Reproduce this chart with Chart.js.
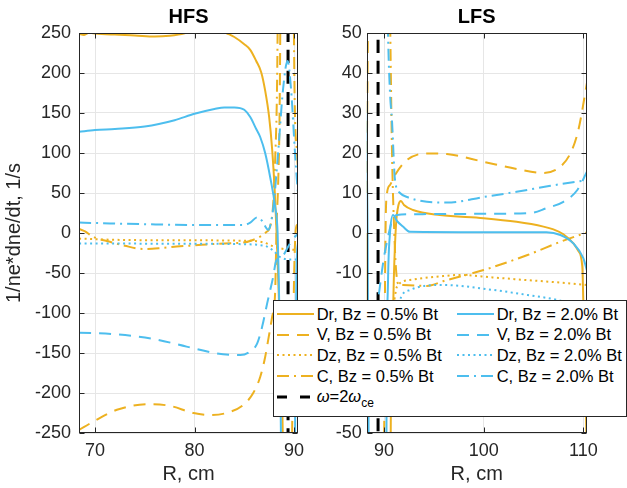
<!DOCTYPE html>
<html>
<head>
<meta charset="utf-8">
<script src="https://cdn.jsdelivr.net/npm/chart.js@4.4.1/dist/chart.umd.min.js"></script>
<style>
  html, body { margin: 0; padding: 0; background: #fff; }
  #fig { position: relative; width: 627px; height: 488px; overflow: hidden;
         font-family: "Liberation Sans", Arial, Helvetica, sans-serif; }
  #fig canvas { position: absolute; top: 0; }
  #legend { position: absolute; left: 273px; top: 300px; width: 352px; height: 115px;
            background: #fff; border: 1px solid #262626; z-index: 5; }
  .item { position: absolute; height: 20px; display: flex; align-items: center;
          font-size: 16.5px; color: #000; white-space: nowrap; }
  .item svg { margin-right: 3px; flex: none; }
  .item sub { font-size: 12px; vertical-align: -5px; line-height: 0; }
</style>
</head>
<body>
<div id="fig">
  <canvas id="hfs" width="313" height="488" style="left:0"></canvas>
  <canvas id="lfs" width="314" height="488" style="left:313px"></canvas>
  <div id="legend"></div>
</div>
<script>
// axis limits and ticks
const hfsXRange = [68.39, 90.4];
const lfsXRange = [88.26, 110.34];
const hfsYRange = [-250, 250];
const lfsYRange = [-50, 50];
const hfsXTicks = [70, 80, 90];
const lfsXTicks = [90, 100, 110];
const hfsYTicks = [-250, -200, -150, -100, -50, 0, 50, 100, 150, 200, 250];
const lfsYTicks = [-50, -40, -30, -20, -10, 0, 10, 20, 30, 40, 50];

// resonance position, omega = 2 omega_ce
const resonanceR = 89.4;

// [R, cm ; 1/ne*dne/dt, 1/s], null = break at the resonance
const dr05 = [[68.4,249],[68.9,247.5],[69.4,250.5],[70,249.5],[72,248],[74,247],[76,245.5],[77.5,246.5],
  [79,249.5],[80,254],[82,258],[83.2,250],[84,245],[85,236],[85.6,229],[86.2,215],[86.7,201],[87.1,178],
  [87.5,145],[87.8,105],[88.05,55],[88.25,0],[88.5,-90],[88.8,-200],[89.05,-400],[89.6,null],
  [90.55,-400],[90.65,-60],[90.8,-30],[91,-10],[91.2,2],[91.45,7],[91.7,8],[92,7],[92.9,5.75],[95.6,4.5],
  [100,3.7],[103.3,2.8],[106,1.6],[107,0.9],[108,-0.3],[109,-2.6],[109.5,-4.5],[109.9,-8.4],[110,-17],
  [110.2,-35],[110.34,-55]];
const v05 = [[68.4,-246],[69.8,-236],[72.2,-221],[75.5,-214],[77.5,-216],[79.9,-225],[81.6,-227.5],
  [83.2,-225],[84.9,-215],[85.9,-200],[86.6,-180],[87.1,-155],[87.4,-134],[87.8,-105],[88.1,-75],
  [88.25,10],[88.4,60],[88.55,150],[88.7,400],[89.2,null],
  [89.7,-400],[89.85,-200],[90,-60],[90.15,0],[90.3,10],[90.6,12],[91.1,14.5],[92.3,18.25],[94.3,19.9],
  [96.3,19.75],[100,17.8],[103.3,16],[106,15],[107.7,16.6],[108.7,19.9],[109.5,25.7],[110.4,38]];
const dz05 = [[68.4,-7],[72,-8.5],[76,-9],[80,-9],[84,-9.5],[86,-10],[87,-12],[88,-17],[89,-20],
  [90.4,-21],[91,-17],[91.3,-13.4],[92.6,-11.75],[96,-10.75],[97.6,-10.5],[100.9,-11.1],[104.2,-11.75],
  [107.7,-12.4],[110.4,-13]];
const c05 = [[68.4,5],[69,2],[69.8,-4.6],[71.5,-11],[73,-16],[74.9,-20],[76.5,-19],[78.2,-17],[80,-15.5],
  [81.6,-14],[83,-13],[84.9,-12],[85.8,-9],[86.6,-4.6],[87.2,1],[87.6,8],[87.9,35],[88.1,90],[88.3,190],
  [88.45,400],[89.2,null],
  [89.9,400],[90.05,180],[90.3,100],[90.6,55],[90.8,20],[91,2],[91.2,-9],[91.5,-13],[91.9,-13],
  [94.3,-13.25],[96,-12],[100,-9.25],[104.4,-5.5],[107.7,-2.2],[110.4,0.2]];

const dr20 = [[68.4,126.5],[70,128.7],[72,130],[75,133],[78,141],[80,149],[82,155],[83,157],[84,157],
  [85,154],[85.6,145],[86.2,130],[86.6,120],[87.1,100],[87.6,70],[88.1,33],[88.35,0],[88.45,-50],
  [88.6,-150],[88.8,-400],[89.4,null],
  [90.05,-400],[90.15,-150],[90.25,-45],[90.4,-12],[90.6,0],[90.9,4.5],[91.3,3],[91.9,1.6],[92.6,0.3],
  [100,0.2],[106.3,0.2],[107.7,-0.5],[109,-2.6],[110,-6.3],[110.4,-9.7]];
const v20 = [[68.4,-124.6],[72.2,-126.7],[75.9,-132.5],[79.2,-142],[82.2,-150.4],[84.6,-152.5],[85.6,-148],
  [86.3,-138],[86.8,-117],[87.3,-88],[87.9,-55],[88.2,-35],[88.9,-28],[89.5,-15],[90,-6],[90.4,-1],
  [90.8,3],[91.3,4.5],[92.9,4.7],[100,4.8],[104.7,5],[106.3,6.2],[108,7.8],[109.4,10.75],[110.4,15.5]];
const dz20 = [[68.4,-13],[72,-13],[76,-13.5],[80,-13.5],[84.9,-14],[86.5,-15],[87.3,-17],[88,-23],
  [88.6,-30],[89.5,-33],[90.4,-33],[91,-25],[91.6,-16.75],[92.6,-14.25],[96,-13],[101,-14.25],
  [104.4,-15.5],[107.4,-16.75],[110.4,-19]];
const c20 = [[68.4,13],[70,12.5],[75,11],[80,10],[84.9,10],[85.6,13],[86.3,19.6],[86.8,15],[87.4,4],
  [87.9,30],[88.4,100],[88.9,180],[89.35,215],[89.7,180],[90.1,100],[90.4,50],[90.6,35],[90.8,28],
  [91.1,13.25],[91.6,10],[92.3,9],[94.3,7.8],[96.3,7.6],[100,9],[103.3,10.3],[106.7,11.8],[110.4,13.25]];

const ORANGE = '#EDB120';
const BLUE = '#4DBEEE';
const SOLID = [], DASHED = [12, 8], DOTTED = [2, 3.5], DASHDOT = [12, 5, 2, 5];

// plotting order: later entries end up on top
const series = [
  { label: 'Dr, Bz = 0.5% Bt', data: dr05, color: ORANGE, dash: SOLID },
  { label: 'V, Bz = 0.5% Bt', data: v05, color: ORANGE, dash: DASHED },
  { label: 'Dz, Bz = 0.5% Bt', data: dz05, color: ORANGE, dash: DOTTED },
  { label: 'C, Bz = 0.5% Bt', data: c05, color: ORANGE, dash: DASHDOT },
  { label: 'resonance', data: null, color: '#000', dash: [13, 8], width: 3 },
  { label: 'Dr, Bz = 2.0% Bt', data: dr20, color: BLUE, dash: SOLID },
  { label: 'V, Bz = 2.0% Bt', data: v20, color: BLUE, dash: DASHED },
  { label: 'Dz, Bz = 2.0% Bt', data: dz20, color: BLUE, dash: DOTTED },
  { label: 'C, Bz = 2.0% Bt', data: c20, color: BLUE, dash: DASHDOT }
];

Chart.defaults.font.family = '"Liberation Sans", Arial, Helvetica, sans-serif';
Chart.defaults.color = '#262626';

// box, inward tick marks and panel title
const frame = {
  id: 'frame',
  afterDraw(chart, args, opts) {
    const { ctx, chartArea: a, scales } = chart;
    const L = Math.round(a.left) + 0.5, R = Math.round(a.right) - 0.5;
    const T = Math.round(a.top) + 0.5, B = Math.round(a.bottom) - 0.5;
    ctx.save();
    ctx.strokeStyle = '#262626';
    ctx.lineWidth = 1;
    ctx.beginPath();
    scales.x.ticks.forEach(t => {
      const px = Math.round(scales.x.getPixelForValue(t.value)) + 0.5;
      ctx.moveTo(px, B); ctx.lineTo(px, B - 5);
      ctx.moveTo(px, T); ctx.lineTo(px, T + 5);
    });
    scales.y.ticks.forEach(t => {
      const py = Math.round(scales.y.getPixelForValue(t.value)) + 0.5;
      ctx.moveTo(L, py); ctx.lineTo(L + 5, py);
      ctx.moveTo(R, py); ctx.lineTo(R - 5, py);
    });
    ctx.stroke();
    ctx.strokeRect(L, T, R - L, B - T);
    ctx.fillStyle = '#000';
    ctx.font = 'bold 20px "Liberation Sans", Arial, Helvetica, sans-serif';
    ctx.textAlign = 'center';
    ctx.textBaseline = 'middle';
    ctx.fillText(opts.text, (a.left + a.right) / 2, 17);
    ctx.restore();
  }
};

function buildDatasets(yRange) {
  return series.map((s, i) => ({
    label: s.label,
    data: (s.data || [[resonanceR, yRange[0] - 10], [resonanceR, yRange[1] + 10]])
      .map(p => ({ x: p[0], y: p[1] })),
    borderColor: s.color,
    borderWidth: s.width || 2,
    borderDash: s.dash,
    pointRadius: 0,
    cubicInterpolationMode: 'monotone',
    spanGaps: false,
    order: series.length - i
  }));
}

function makeChart(id, cfg) {
  return new Chart(document.getElementById(id), {
    type: 'line',
    data: { datasets: buildDatasets(cfg.yRange) },
    options: {
      responsive: false,
      animation: false,
      events: [],
      layout: { padding: { left: 0, top: 33, right: cfg.padRight, bottom: 0 } },
      plugins: { legend: { display: false }, tooltip: { enabled: false }, frame: { text: cfg.title } },
      scales: {
        x: {
          type: 'linear', min: cfg.xRange[0], max: cfg.xRange[1],
          afterBuildTicks: s => { s.ticks = cfg.xTicks.map(v => ({ value: v })); },
          afterFit: s => { s.height = 55; },
          grid: { color: '#e6e6e6', drawTicks: false },
          border: { display: false },
          ticks: { font: { size: 18 }, padding: 7, maxRotation: 0, autoSkip: false },
          title: { display: true, text: 'R, cm', font: { size: 20 }, padding: { top: 0, bottom: 2 } }
        },
        y: {
          type: 'linear', min: cfg.yRange[0], max: cfg.yRange[1],
          afterBuildTicks: s => { s.ticks = cfg.yTicks.map(v => ({ value: v })); },
          afterFit: s => { s.width = cfg.yWidth; },
          grid: { color: '#e6e6e6', drawTicks: false },
          border: { display: false },
          ticks: { font: { size: 18 }, padding: cfg.yPad, autoSkip: false },
          title: { display: !!cfg.yTitle, text: cfg.yTitle || '', font: { size: 20 },
                   padding: { top: 2, bottom: 0 } }
        }
      }
    },
    plugins: [frame]
  });
}

makeChart('hfs', { title: 'HFS', xRange: hfsXRange, yRange: hfsYRange, xTicks: hfsXTicks,
  yTicks: hfsYTicks, yWidth: 79, yPad: 8, padRight: 15, yTitle: '1/ne*dne/dt, 1/s' });
makeChart('lfs', { title: 'LFS', xRange: lfsXRange, yRange: lfsYRange, xTicks: lfsXTicks,
  yTicks: lfsYTicks, yWidth: 53.7, yPad: 5, padRight: 40.3 });

// two-column legend: 0.5% entries plus the resonance on the left, 2.0% on the right
const legendCols = [[0, 1, 2, 3, 4], [5, 6, 7, 8]];
const legend = document.getElementById('legend');
legendCols.forEach((col, c) => {
  col.forEach((idx, r) => {
    const s = series[idx];
    const item = document.createElement('div');
    item.className = 'item';
    item.style.left = (c === 0 ? 2.7 : 182.7) + 'px';
    item.style.top = (3 + r * 20.7) + 'px';
    const dash = idx === 4 ? '10,13' : (s.dash.length ? s.dash.join(',') : 'none');
    item.innerHTML = '<svg width="37" height="10"><line x1="0" y1="5" x2="37" y2="5" stroke="' + s.color +
      '" stroke-width="' + (s.width || 2) + '" stroke-dasharray="' + dash + '"/></svg>' +
      (idx === 4 ? '<span><i>ω</i>=2<i>ω</i><sub>ce</sub></span>' : '<span>' + s.label + '</span>');
    legend.appendChild(item);
  });
});
</script>
</body>
</html>
